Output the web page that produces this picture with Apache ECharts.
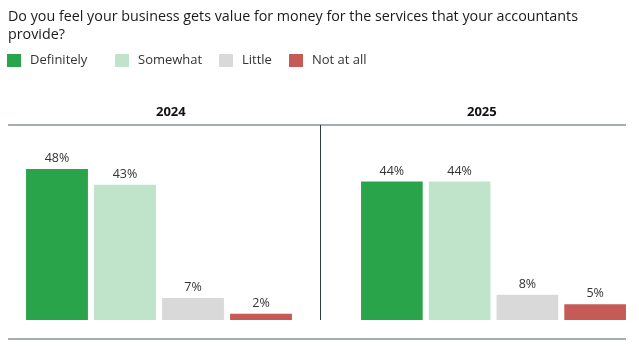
<!DOCTYPE html>
<html><head><meta charset="utf-8">
<script src="https://cdn.jsdelivr.net/npm/echarts@6/dist/echarts.min.js"></script>
<style>html,body{margin:0;padding:0;background:#fff}#c{width:639px;height:347px}</style>
</head><body><div id="c"></div>
<script>
const categories = ['Definitely', 'Somewhat', 'Little', 'Not at all'];
const years = ['2024', '2025'];
const values2024 = [48, 43, 7, 2];
const values2025 = [44, 44, 8, 5];
const colors = ['#2aa44a', '#bfe4c9', '#d9d9d9', '#c55a57'];

const chart = echarts.init(document.getElementById('c'));
const font = '"Open Sans", "Noto Sans", sans-serif';
const allValues = [values2024, values2025];
const grids = [
  {left: 23, width: 272, top: 125, height: 195},
  {left: 358, width: 271, top: 125, height: 195}
];
const legendLefts = [7, 115, 219, 289];
const series = [];
allValues.forEach((vals, gi) => {
  categories.forEach((cat, ci) => {
    series.push({
      name: cat, type: 'bar', xAxisIndex: gi, yAxisIndex: gi, stack: 's' + gi,
      barCategoryGap: '9%',
      itemStyle: {color: colors[ci]},
      label: {show: true, position: 'top', distance: 4, formatter: '{c}%', color: '#333', fontSize: 12.5, fontFamily: font},
      data: categories.map((c, k) => k === ci ? vals[ci] : '-')
    });
  });
});
chart.setOption({
  animation: false,
  title: {
    text: 'Do you feel your business gets value for money for the services that your accountants\nprovide?',
    left: 3, top: 3,
    textStyle: {fontSize: 14.3, fontWeight: 'normal', color: '#1a1a1a', fontFamily: font, lineHeight: 18}
  },
  legend: categories.map((cat, i) => ({
    data: [cat], left: legendLefts[i], top: 54, padding: 0, itemWidth: 14, itemHeight: 13,
    icon: 'rect', selectedMode: false,
    textStyle: {fontSize: 13, color: '#333', fontFamily: font, padding: [0, 0, 0, 4]}
  })),
  grid: grids,
  xAxis: grids.map((g, i) => ({type: 'category', gridIndex: i, data: categories, show: false})),
  yAxis: grids.map((g, i) => ({type: 'value', gridIndex: i, min: 0, max: 62, show: false})),
  series: series,
  graphic: [
    {type: 'text', left: 170 - 14, top: 106, style: {text: years[0], fontSize: 13, fontWeight: 'bold', fill: '#111', fontFamily: font}},
    {type: 'text', left: 481 - 14, top: 106, style: {text: years[1], fontSize: 13, fontWeight: 'bold', fill: '#111', fontFamily: font}},
    {type: 'line', shape: {x1: 8, y1: 125, x2: 626, y2: 125}, style: {stroke: '#87939a', lineWidth: 1.5}},
    {type: 'line', shape: {x1: 8, y1: 339, x2: 626, y2: 339}, style: {stroke: '#87939a', lineWidth: 1.5}},
    {type: 'line', shape: {x1: 320.5, y1: 125, x2: 320.5, y2: 320}, style: {stroke: '#2b3f4a', lineWidth: 1}}
  ]
});
</script></body></html>
